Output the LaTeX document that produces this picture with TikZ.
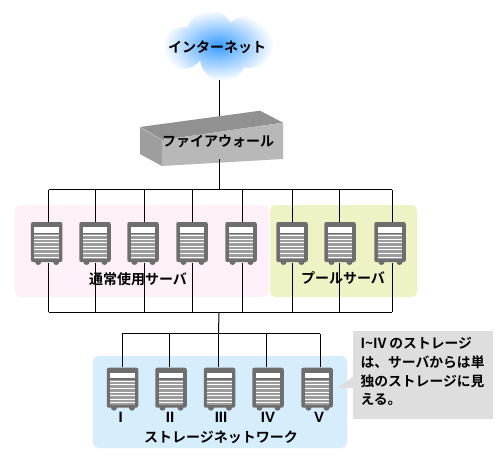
\documentclass[tikz,border=0pt]{standalone}
\usepackage{fontspec}
\setmainfont{Noto Sans CJK JP}[BoldFont={Noto Sans CJK JP Bold}]
\newfontfamily\numfont{Liberation Sans}
\usepackage{xcolor}
\usepackage{tikz}
\usetikzlibrary{positioning}
\definecolor{poolpink}{HTML}{FDF0F8}
\definecolor{poolgreen}{HTML}{EEF2C4}
\definecolor{storeblue}{HTML}{D6EEFC}
\definecolor{notegray}{HTML}{DEDEDE}
\definecolor{cloudblue}{HTML}{3A9CFF}
\definecolor{cloudmid}{HTML}{88C4FF}
\definecolor{servergray}{HTML}{6E6E6E}
\definecolor{stripegray}{HTML}{9C9C9C}
\tikzset{
    boxlabel/.style={inner sep=0pt, font=\bfseries\fontsize{14}{16}\selectfont},
    numlabel/.style={inner sep=0pt, font=\numfont\bfseries\fontsize{15}{17}\selectfont},
    serverbox/.style={fill=servergray, rounded corners=2pt, minimum width=31.5pt, minimum height=40pt, inner sep=0pt}
}
% one server, name and centre
\newcommand{\serverunit}[3]{
    \fill[servergray] (#2-8.5,#3+20) circle (3pt);
    \fill[servergray] (#2+9.5,#3+20) circle (3pt);
    \node[serverbox] (#1) at (#2,#3) {};
    \fill[white] (#2-12.3,#3-14.7) rectangle (#2+12.3,#3-9.3);
    \fill[stripegray] (#2-12.3,#3-8) rectangle (#2+12.3,#3+17);
    \foreach \s in {-7,-3.4,0.2,3.8,7.4,11,14.6} {
        \fill[white] (#2-12.3,#3+\s) rectangle (#2+12.3,#3+\s+1);
    }
}
\begin{document}
\begin{tikzpicture}[x=1pt, y=-1pt, line width=1pt]
    \useasboundingbox (0,0) rectangle (500,456);

    % 1. BACKGROUND BANDS
    \fill[poolpink, rounded corners=5pt] (15,205) rectangle (269,297);
    \fill[poolgreen, rounded corners=5pt] (270,205) rectangle (417,297);
    \fill[storeblue, rounded corners=5pt] (93,356) rectangle (347,448);

    % 2. CLOUD
    \shade[inner color=cloudblue, middle color=cloudmid, outer color=white]
        (183,48) circle (21) (210,33) circle (23) (248,42) circle (26) (223,58) circle (23) (215,48) circle (20);
    \node[boxlabel] (cloud) at (217,47) {インターネット};

    % 3. FIREWALL
    \fill[black!43] (140,127) -- (260,110.7) -- (283,122.7) -- (162,140) -- cycle;
    \fill[black!38] (140,127) -- (162,140) -- (162,166) -- (140,154) -- cycle;
    \fill[black!28] (162,140) -- (283,122.7) -- (283,159) -- (162,166) -- cycle;
    \draw[black!22, line width=0.5pt] (140,127) -- (162,140);
    \node[boxlabel] (wall) at (218,141) {ファイアウォール};
    \coordinate (cloudbase) at (219,80);
    \coordinate (walltop) at (219,115.5);
    \coordinate (wallbase) at (219,159);
    \coordinate (topbus) at (219,189.5);
    \coordinate (lowbus) at (219,312);
    \draw (cloudbase) -- (walltop);
    \draw (wallbase) -- (topbus);

    % 4. SERVERS AND WIRES
    \foreach \name/\x/\wire in {a/46.7/48.5, b/95/95.5, c/143/144, d/192/192.5, e/241/242, f/292/292, g/340/339, h/390/392} {
        \coordinate (top\name) at (\wire,189.5);
        \coordinate (low\name) at (\wire,312);
        \serverunit{srv\name}{\x}{242}
        \draw (top\name) -- (top\name |- srv\name.north);
        \draw (low\name) -- (low\name |- srv\name.south);
    }
    \draw (topa) -- (toph);
    \draw (lowa) -- (lowh);
    \node[boxlabel] (usualname) at (138,279) {通常使用サーバ};
    \node[boxlabel] (poolname) at (343,278) {プールサーバ};

    % 5. STORAGE
    \coordinate (storebus) at (218.5,333.7);
    \draw (lowbus) -- (storebus);
    \foreach \name/\x/\wire/\lab/\labx in {i/122.5/122/I/120.7, ii/171/169/II/170, iii/219.5/218.5/III/221, iv/268/266/IV/268, v/317/320/V/319} {
        \coordinate (bus\name) at (\wire,333.7);
        \serverunit{disk\name}{\x}{387.7}
        \draw (bus\name) -- (bus\name |- disk\name.north);
        \node[numlabel] (lab\name) at (\labx,417) {\lab};
    }
    \draw (busi) -- (busv);
    \node[boxlabel] (storename) at (221,437) {ストレージネットワーク};

    % 6. NOTE
    \fill[notegray] (353,331) rectangle (493,419);
    \fill[notegray] (337,388) -- (353,377) -- (353,388) -- cycle;
    \node[boxlabel, anchor=north west, align=left, font=\bfseries\fontsize{13.8}{18.7}\selectfont] (note) at (360,337)
        {I\textasciitilde IV のストレージ\\は、サーバからは単\\独のストレージに見\\える。};

\end{tikzpicture}
\end{document}
